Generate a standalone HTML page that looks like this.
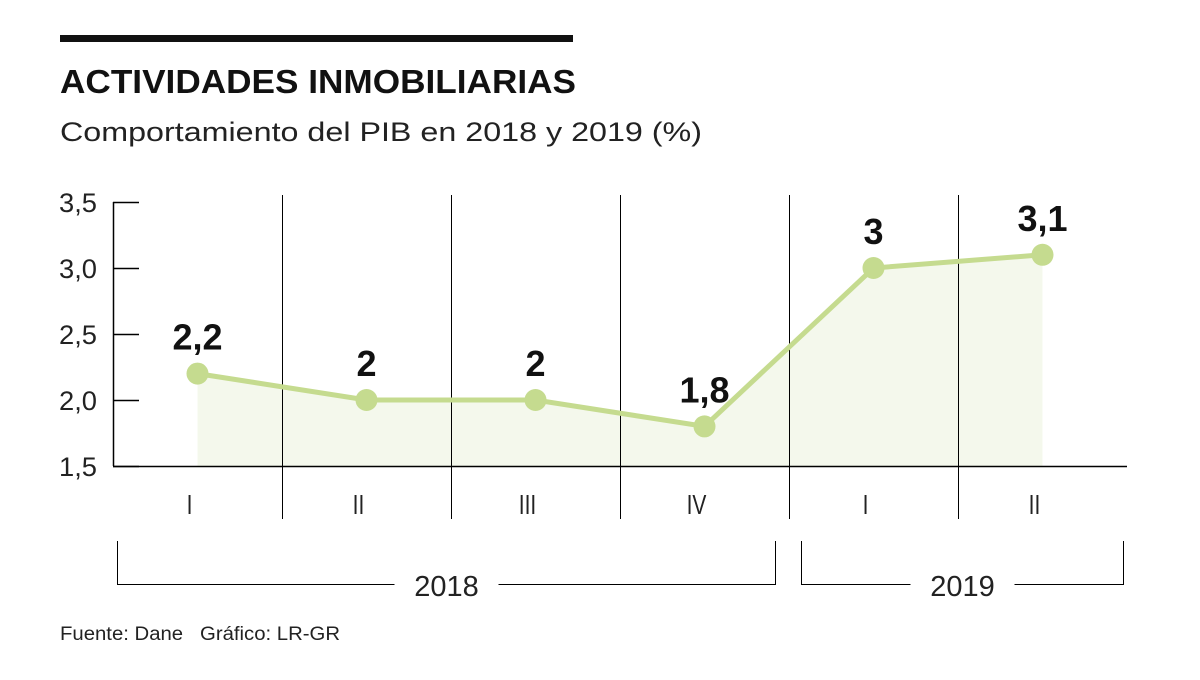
<!DOCTYPE html>
<html><head><meta charset="utf-8"><style>
body{margin:0;background:#fff;width:1200px;height:675px;overflow:hidden;font-family:"Liberation Sans",sans-serif}
</style></head><body>
<svg width="1200" height="675" xmlns="http://www.w3.org/2000/svg">
<rect x="60" y="35" width="513" height="7" fill="#111"/>
<text x="60" y="93" font-size="33" font-weight="bold" fill="#111" textLength="516" lengthAdjust="spacingAndGlyphs">ACTIVIDADES INMOBILIARIAS</text>
<text x="60" y="141" font-size="27" fill="#222" textLength="642" lengthAdjust="spacingAndGlyphs">Comportamiento del PIB en 2018 y 2019 (%)</text>
<g id="plot"></g>
<text x="60" y="640" font-size="19" fill="#222" textLength="280" lengthAdjust="spacingAndGlyphs">Fuente: Dane&#160;&#160;&#160;Gráfico: LR-GR</text>
</svg>
<script>
const categories=["I","II","III","IV","I","II"];
const values=[2.2,2,2,1.8,3,3.1];
const valueLabels=["2,2","2","2","1,8","3","3,1"];
const yTicks=[1.5,2.0,2.5,3.0,3.5];
const yTickLabels=["1,5","2,0","2,5","3,0","3,5"];
const years=["2018","2019"];
const yearSpans=[[0,3],[4,5]];
const NS="http://www.w3.org/2000/svg";
const g=document.getElementById('plot');
const x0=113,colW=169,yMin=1.5,yMax=3.5,yB=466,yT=202;
const X=i=>x0+colW*(i+0.5);
const Y=v=>yB-(v-yMin)/(yMax-yMin)*(yB-yT);
function mk(t,a,txt){const e=document.createElementNS(NS,t);for(const k in a)e.setAttribute(k,a[k]);if(txt!==undefined)e.textContent=txt;g.appendChild(e);return e;}
let d=`M${X(0)},${yB}`;values.forEach((v,i)=>d+=` L${X(i)},${Y(v)}`);d+=` L${X(values.length-1)},${yB} Z`;
let e=mk('path',{d:d,fill:'#f4f8ec'});


for(let i=1;i<categories.length;i++){const gx=x0+colW*i+0.5;e=mk('line',{x1:gx,x2:gx,y1:195,y2:519,stroke:'#000','stroke-width':1});

}
e=mk('line',{x1:x0+0.5,x2:x0+0.5,y1:yT,y2:yB,stroke:'#000','stroke-width':1.5});


e=mk('line',{x1:x0,x2:1127,y1:yB+0.5,y2:yB+0.5,stroke:'#000','stroke-width':1.5});


yTicks.forEach((t,i)=>{
 e=mk('line',{x1:x0,x2:139,y1:Y(t)+0.5,y2:Y(t)+0.5,stroke:'#000','stroke-width':1.5});
 
 
 e=mk('text',{x:97,y:Y(t)+10,'font-size':27,'text-anchor':'end',fill:'#222',textLength:38,lengthAdjust:'spacingAndGlyphs'},yTickLabels[i]);
 
 
});
let pd='';values.forEach((v,i)=>pd+=(i?' L':'M')+X(i)+','+Y(v));
e=mk('path',{d:pd,fill:'none',stroke:'#c5db8f','stroke-width':5});


values.forEach((v,i)=>{
 e=mk('circle',{cx:X(i),cy:Y(v),r:11,fill:'#c5db8f'});
 
 
 e=mk('text',{x:X(i),y:Y(v)-24,'font-size':36,'font-weight':'bold','text-anchor':'middle',fill:'#111'},valueLabels[i]);
 
 
 e=mk('text',{x:X(i)-8,y:514,'font-size':28,'text-anchor':'middle',fill:'#222',transform:`translate(${(X(i)-8)*0.25},0) scale(0.75,1)`},categories[i]);
 
 
});
years.forEach((yr,k)=>{
 const a=x0+colW*yearSpans[k][0]+(k?12:4)+0.5, b=x0+colW*(yearSpans[k][1]+1)-(k?4:14)+0.5;
 const c=(a+b)/2, tw=80;
 e=mk('path',{d:`M${a},541 L${a},584.5 L${c-tw/2-12},584.5 M${c+tw/2+12},584.5 L${b},584.5 L${b},541`,fill:'none',stroke:'#000','stroke-width':1});
 
 
 e=mk('text',{x:c,y:596,'font-size':29,'text-anchor':'middle',fill:'#222'},yr);
 
 
});
</script>
</body></html>
